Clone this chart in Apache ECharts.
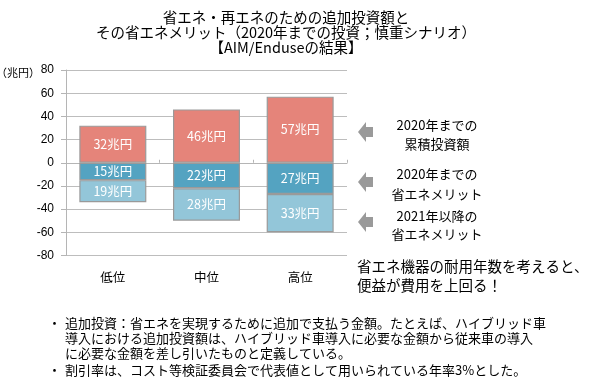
<!DOCTYPE html>
<html><head><meta charset="utf-8">
<script src="https://cdn.jsdelivr.net/npm/echarts@6/dist/echarts.min.js"></script>
<style>html,body{margin:0;padding:0;background:#fff}#c{width:600px;height:387px}</style>
</head><body><div id="c"></div>
<script>
const categories = ['低位', '中位', '高位'];
const investment = [32, 46, 57];        // 2020年までの累積投資額
const merit2020 = [-15, -22, -27];      // 2020年までの省エネメリット
const merit2021 = [-19, -28, -33];      // 2021年以降の省エネメリット
const yTicks = [-80, -60, -40, -20, 0, 20, 40, 60, 80];
const titleLines = ['省エネ・再エネのための追加投資額と', 'その省エネメリット（2020年までの投資；慎重シナリオ）', '【AIM/Enduseの結果】'];
const legendNotes = [['2020年までの', '累積投資額'], ['2020年までの', '省エネメリット'], ['2021年以降の', '省エネメリット']];
const conclusion = ['省エネ機器の耐用年数を考えると、', '便益が費用を上回る！'];
const footnotes = [
  ['追加投資：省エネを実現するために追加で支払う金額。たとえば、ハイブリッド車', '導入における追加投資額は、ハイブリッド車導入に必要な金額から従来車の導入', 'に必要な金額を差し引いたものと定義している。'],
  ['割引率は、コスト等検証委員会で代表値として用いられている年率3%とした。']
];

const JP = '"Noto Sans CJK JP", "Liberation Sans", sans-serif';
const NUM = '"Liberation Sans", "Noto Sans CJK JP", sans-serif';
const chart = echarts.init(document.getElementById('c'), null, {renderer: 'canvas'});

const graphics = [];
titleLines.forEach((t, i) => graphics.push({type: 'text', style: {text: t, x: 286, y: 17 + i * 15.3, textAlign: 'center', textVerticalAlign: 'middle', font: '14.5px ' + JP, fill: '#000'}}));
graphics.push({type: 'text', style: {text: '（兆円）', x: -4, y: 73, textAlign: 'left', textVerticalAlign: 'middle', font: '11px ' + JP, fill: '#000'}});
const arrowY = [132, 182, 222];
arrowY.forEach(cy => graphics.push({type: 'polygon', shape: {points: [[358, cy], [366, cy - 10], [366, cy - 5], [373, cy - 5], [373, cy + 5], [366, cy + 5], [366, cy + 10]]}, style: {fill: '#9a9a9a'}}));
const noteY = [[125.5, 144], [174.5, 194], [216, 234]];
legendNotes.forEach((lines, g) => lines.forEach((t, i) => graphics.push({type: 'text', style: {text: t, x: 437, y: noteY[g][i], textAlign: 'center', textVerticalAlign: 'middle', font: '13px ' + JP, fill: '#000'}})));
conclusion.forEach((t, i) => graphics.push({type: 'text', style: {text: t, x: 357, y: 266 + i * 19, textAlign: 'left', textVerticalAlign: 'middle', font: '14.5px ' + JP, fill: '#000'}}));
let fy = 323;
footnotes.forEach((para, p) => {
  graphics.push({type: 'text', style: {text: '・', x: 48, y: fy, textAlign: 'left', textVerticalAlign: 'middle', font: '13px ' + JP, fill: '#000'}});
  para.forEach((t, i) => {
    graphics.push({type: 'text', style: {text: t, x: 65, y: fy, textAlign: 'left', textVerticalAlign: 'middle', font: '13px ' + JP, fill: '#000'}});
    fy += 15;
  });
  fy += 2;
});

const barLabel = {show: true, position: 'inside', color: '#fff', fontSize: 12.5, fontFamily: JP, formatter: p => Math.abs(p.value) + '兆円'};
const border = {borderColor: '#9a9a9a', borderWidth: 1.2};

chart.setOption({
  animation: false,
  grid: {left: 66, right: 253, top: 70, bottom: 131.5, containLabel: false},
  xAxis: [
    {type: 'category', data: categories, position: 'bottom', axisLine: {show: false, onZero: false}, axisTick: {show: false},
     axisLabel: {color: '#000', fontSize: 12.5, fontFamily: JP, margin: 15}},
    {type: 'category', data: categories, axisLine: {show: true, onZero: true, lineStyle: {color: '#b5b5b5'}},
     axisTick: {show: true, length: 3, lineStyle: {color: '#b5b5b5'}}, axisLabel: {show: false}}
  ],
  yAxis: {type: 'value', min: yTicks[0], max: yTicks[yTicks.length - 1], interval: 20,
    axisLine: {show: true, lineStyle: {color: '#b5b5b5'}}, axisTick: {show: true, length: 5, lineStyle: {color: '#b5b5b5'}},
    splitLine: {show: true, lineStyle: {color: '#bdbdbd', width: 1}},
    axisLabel: {color: '#000', fontSize: 12, fontFamily: NUM, margin: 12}},
  series: [
    {name: '2020年までの累積投資額', type: 'bar', stack: 'a', data: investment, barWidth: 67, itemStyle: Object.assign({color: '#e5847a'}, border), label: barLabel},
    {name: '2020年までの省エネメリット', type: 'bar', stack: 'a', data: merit2020, barWidth: 67, itemStyle: Object.assign({color: '#54a3c1'}, border), label: barLabel},
    {name: '2021年以降の省エネメリット', type: 'bar', stack: 'a', data: merit2021, barWidth: 67, itemStyle: Object.assign({color: '#93c6d9'}, border), label: barLabel}
  ],
  graphic: graphics
});
</script></body></html>
